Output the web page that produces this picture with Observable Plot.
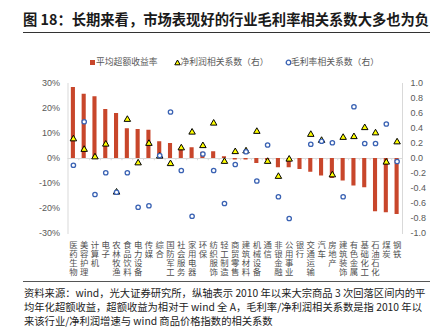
<!DOCTYPE html>
<html><head><meta charset="utf-8">
<script src="https://cdn.jsdelivr.net/npm/d3@7"></script>
<script src="https://cdn.jsdelivr.net/npm/@observablehq/plot@0.6"></script>
<style>
body{margin:0;background:#fff;width:440px;height:333px;position:relative;overflow:hidden;font-family:"Noto Sans CJK SC",sans-serif;}
#title{position:absolute;left:23px;top:9px;font-size:14.3px;font-weight:bold;color:#1a1a1a;white-space:nowrap;line-height:20px;}
#rule1{position:absolute;left:23px;top:31.5px;width:407px;height:1.5px;background:#333;}
.lg{position:absolute;top:56px;font-size:8.8px;line-height:12px;color:#595959;white-space:nowrap;}
.sw{position:absolute;}
#chart{position:absolute;left:0;top:75px;}
#chart g[aria-label="x-axis tick label"] text{font-size:8.4px;font-family:"Noto Sans CJK SC",sans-serif;}
#rule2{position:absolute;left:23px;top:281px;width:407px;height:1px;background:#555;}
#caption{position:absolute;left:24px;top:286px;font-size:10.3px;line-height:14.2px;color:#222;white-space:nowrap;}
</style>
</head><body>
<div id="title">图 18：长期来看，市场表现好的行业毛利率相关系数大多也为负</div>
<div id="rule1"></div>
<div id="legend"></div>
<div id="chart"></div>
<div id="rule2"></div>
<div id="caption">资料来源：wind，光大证券研究所，纵轴表示 2010 年以来大宗商品 3 次回落区间内的平<br>均年化超额收益，超额收益为相对于 wind 全 A，毛利率/净利润相关系数是指 2010 年以<br>来该行业/净利润增速与 wind 商品价格指数的相关系数</div>
<script>
const categories = ["医药生物","美容护理","计算机","电子","农林牧渔","食品饮料","电力设备","传媒","综合","国防军工","社会服务","家用电器","环保","纺织服饰","轻工制造","商贸零售","建筑材料","机械设备","通信","非银金融","公用事业","银行","交通运输","汽车","房地产","建筑装饰","有色金属","基础化工","石油石化","煤炭","钢铁"];
// 平均超额收益率 (%)
const excessReturn = [28.4,25.7,24.7,19.6,18.0,11.9,11.6,11.3,6.7,6.0,4.0,4.3,2.5,2.7,0.7,-0.6,-0.6,-2.0,-0.8,-3.7,-3.7,-4.4,-5.5,-7.0,-8.0,-9.0,-11.0,-11.7,-21.3,-21.7,-22.4];
// 净利润相关系数（右）
const netProfitCorr = [0.26,0.12,0.02,0.19,-0.45,0.52,-0.06,0.20,0.03,-0.07,0.14,0.35,0.17,0.47,-0.04,0.09,0.10,0.36,-0.04,-0.24,-0.01,null,0.32,0.24,-0.22,0.28,0.29,0.41,0.34,-0.05,0.22];
// 毛利率相关系数（右）
const grossMarginCorr = [-0.09,0.49,-0.48,-0.19,-0.45,-0.19,-0.65,-0.63,0.04,0.62,-0.16,-0.77,0.06,-0.16,-0.60,-0.08,0.09,-0.30,0.18,-0.51,-0.80,null,0.19,0.23,0.21,-0.51,0.69,0.20,0.20,0.46,-0.04];
const leftTicks = [-30,-20,-10,0,10,20,30];
const rightTicks = [-1.0,-0.8,-0.6,-0.4,-0.2,0,0.2,0.4,0.6,0.8,1.0];
const seriesNames = ["平均超额收益率","净利润相关系数（右）","毛利率相关系数（右）"];

const RED="#c8462b", YEL="#ffff00", BLUE="#3a62b3";
const k = 0.3; // right axis [-1,1] ↔ left axis [-30%,30%]
const data = categories.map((name,i)=>({name, ret:excessReturn[i]/100, np:netProfitCorr[i], gm:grossMarginCorr[i]}));

// legend
const lg = document.getElementById("legend");
lg.innerHTML = `
<svg class="sw" style="left:90px;top:59.5px" width="6" height="6"><rect x="0" y="0" width="5" height="5" fill="${RED}"/></svg>
<div class="lg" style="left:96px">${seriesNames[0]}</div>
<svg class="sw" style="left:173.5px;top:59px" width="7" height="7"><path d="M3.5,1 L6.2,5.8 L0.8,5.8 Z" fill="${YEL}" stroke="#000" stroke-width="1"/></svg>
<div class="lg" style="left:180.5px">${seriesNames[1]}</div>
<svg class="sw" style="left:284.5px;top:59px" width="7" height="7"><circle cx="3.5" cy="3.5" r="2.3" fill="#fff" stroke="${BLUE}" stroke-width="1.3"/></svg>
<div class="lg" style="left:291px">${seriesNames[2]}</div>`;

const W=440, ML=67.5, MR=38;
const step = (W-ML-MR)/categories.length;
const font = "'Liberation Sans','Noto Sans CJK SC',sans-serif";
const chart = Plot.plot({
  width: W, height: 205,
  marginLeft: ML, marginRight: MR, marginTop: 8, marginBottom: 47,
  x: {domain: categories, paddingInner: 0.62, paddingOuter: 0.31, round: false, axis: null, label: null},
  y: {domain: [-0.3, 0.3], axis: null, label: null},
  style: {fontFamily: font, fontSize: "9px", color: "#595959", background: "transparent"},
  marks: [
    Plot.frame({anchor: "left", stroke: "#d9d9d9"}),
    Plot.frame({anchor: "right", stroke: "#d9d9d9"}),
    Plot.ruleY([0], {stroke: "#d9d9d9"}),
    Plot.ruleX(categories.slice(1), {x: d=>d, y1: 0, y2: -0.009, dx: -step/2, stroke: "#d9d9d9"}),
    Plot.barY(data, {x: "name", y: "ret", fill: RED}),
    Plot.dot(data.filter(d=>d.np!=null), {x: "name", y: d=>d.np*k, symbol: "triangle", r: 2.4, fill: YEL, stroke: "#000", strokeWidth: 1}),
    Plot.dot(data.filter(d=>d.gm!=null), {x: "name", y: d=>d.gm*k, symbol: "circle", r: 2.2, fill: "#fff", stroke: BLUE, strokeWidth: 1.3}),
    Plot.axisX({anchor: "bottom", label: null, tickSize: 0, tickPadding: 8, tickFormat: d=>d.split("").join("\n"), lineAnchor: "top", lineHeight: 1.08, fontSize: 8.4, fill: "#505050"}),
    Plot.axisY({anchor: "left", label: null, ticks: leftTicks.map(v=>v/100), tickFormat: d=>Math.round(d*100)+"%", tickSize: 0, tickPadding: 8}),
    Plot.axisY({anchor: "right", label: null, ticks: rightTicks.map(v=>v*k), tickFormat: d=>(Math.round(d/k*10)/10).toFixed(1), tickSize: 0, tickPadding: 8})
  ]
});
document.getElementById("chart").appendChild(chart);
</script>
</body></html>
